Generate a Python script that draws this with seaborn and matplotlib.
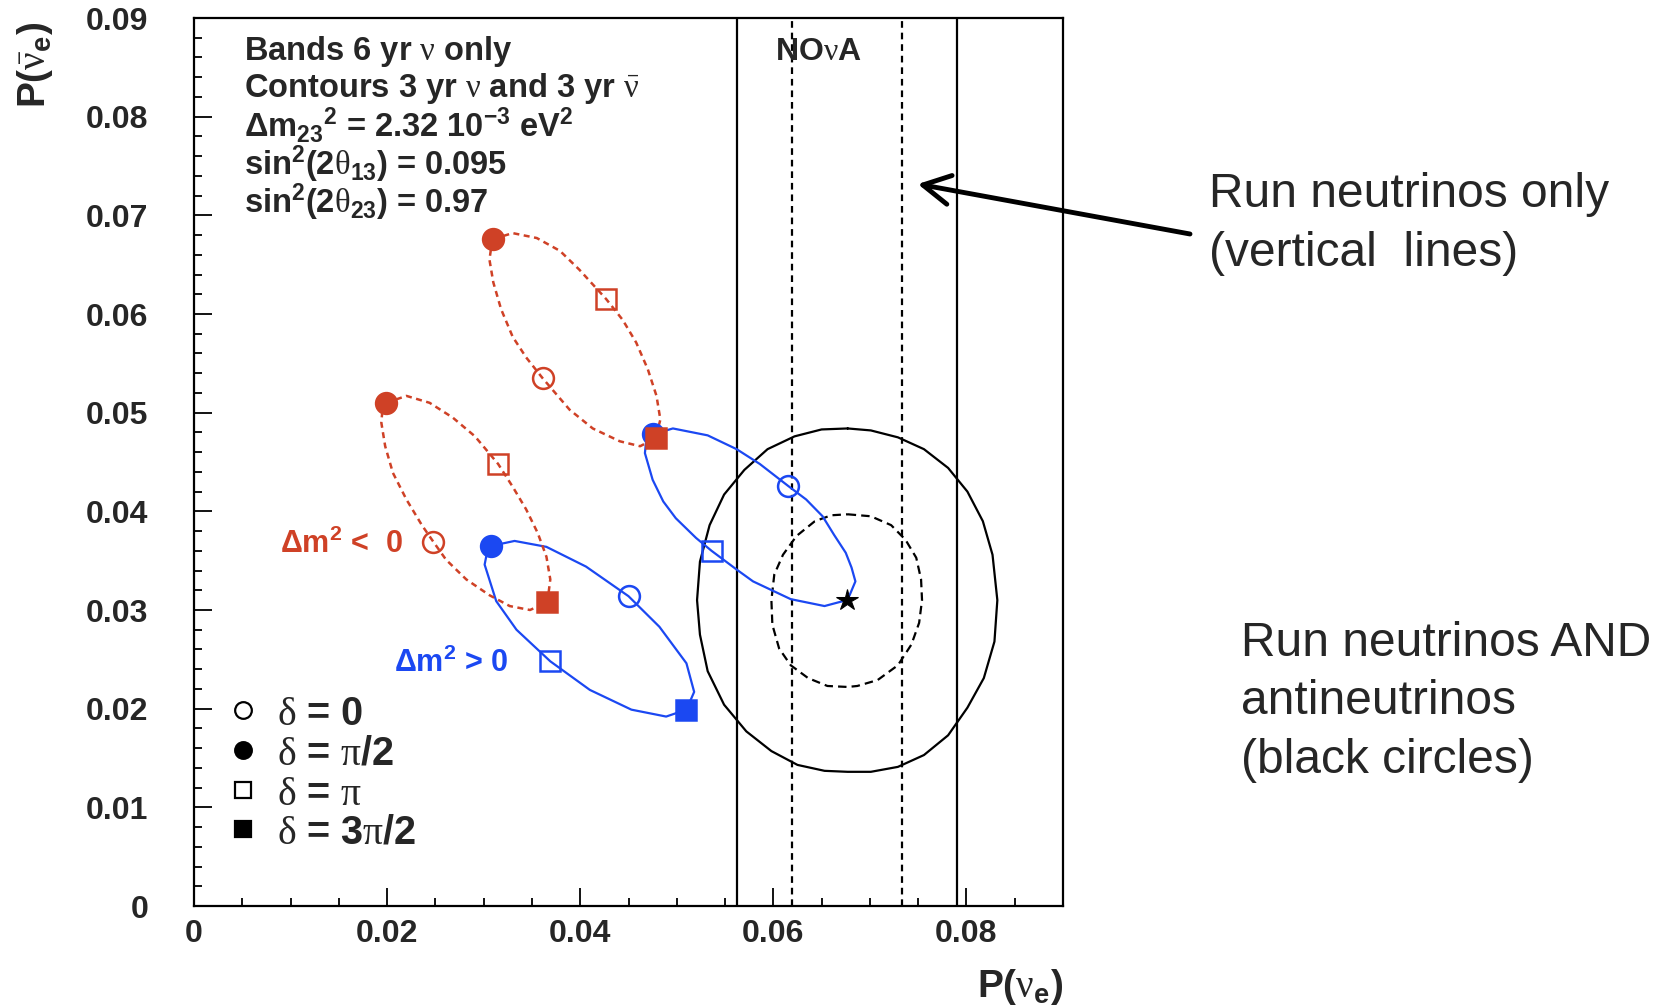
import matplotlib
matplotlib.use("Agg")
import matplotlib.pyplot as plt
from matplotlib.ticker import MultipleLocator
import seaborn as sns

# ---------------- data ----------------
# Delta m^2 < 0 (red, dashed) - upper band
red_upper_x = [0.0310, 0.0330, 0.0355, 0.0379, 0.0399, 0.0427, 0.0444, 0.0458, 0.0470, 0.0479, 0.0483, 0.0478,
               0.0462, 0.0441, 0.0413, 0.0389, 0.0361, 0.0344, 0.0330, 0.0318, 0.0310, 0.0306, 0.0308]
red_upper_y = [0.0676, 0.0682, 0.0677, 0.0664, 0.0645, 0.0615, 0.0594, 0.0571, 0.0544, 0.0517, 0.0493, 0.0474,
               0.0466, 0.0471, 0.0484, 0.0503, 0.0535, 0.0556, 0.0577, 0.0605, 0.0632, 0.0655, 0.0669]
# Delta m^2 < 0 (red, dashed) - lower band
red_lower_x = [0.0199, 0.0220, 0.0244, 0.0268, 0.0291, 0.0315, 0.0330, 0.0344, 0.0356, 0.0365, 0.0369, 0.0366,
               0.0348, 0.0327, 0.0306, 0.0282, 0.0261, 0.0248, 0.0236, 0.0220, 0.0206, 0.0198, 0.0194, 0.0195]
red_lower_y = [0.0510, 0.0517, 0.0510, 0.0495, 0.0476, 0.0448, 0.0425, 0.0402, 0.0378, 0.0354, 0.0331, 0.0308,
               0.0300, 0.0304, 0.0315, 0.0331, 0.0351, 0.0369, 0.0386, 0.0412, 0.0439, 0.0466, 0.0490, 0.0501]
# Delta m^2 > 0 (blue, solid) - upper band
blue_upper_x = [0.0475, 0.0496, 0.0532, 0.0562, 0.0586, 0.0615, 0.0634, 0.0651, 0.0663, 0.0675, 0.0681, 0.0685,
                0.0679, 0.0676, 0.0653, 0.0618, 0.0579, 0.0562, 0.0536, 0.0520, 0.0499, 0.0486, 0.0475, 0.0467, 0.0468]
blue_upper_y = [0.0478, 0.0484, 0.0477, 0.0463, 0.0448, 0.0426, 0.0412, 0.0395, 0.0376, 0.0358, 0.0343, 0.0329,
                0.0315, 0.0310, 0.0304, 0.0311, 0.0329, 0.0341, 0.0360, 0.0373, 0.0393, 0.0410, 0.0432, 0.0459, 0.0469]
# Delta m^2 > 0 (blue, solid) - lower band
blue_lower_x = [0.0308, 0.0332, 0.0365, 0.0406, 0.0450, 0.0482, 0.0510, 0.0518, 0.0510, 0.0489, 0.0453, 0.0410,
                0.0369, 0.0334, 0.0313, 0.0301, 0.0303]
blue_lower_y = [0.0365, 0.0370, 0.0364, 0.0344, 0.0314, 0.0283, 0.0246, 0.0217, 0.0199, 0.0192, 0.0199, 0.0219,
                0.0248, 0.0280, 0.0309, 0.0346, 0.0356]

# delta markers: [delta=0, pi/2, pi, 3pi/2]
red_upper_marks_x = [0.0361, 0.0310, 0.0427, 0.0478]
red_upper_marks_y = [0.0535, 0.0676, 0.0615, 0.0474]
red_lower_marks_x = [0.0248, 0.0199, 0.0315, 0.0366]
red_lower_marks_y = [0.0369, 0.0510, 0.0448, 0.0308]
blue_upper_marks_x = [0.0615, 0.0475, 0.0536]
blue_upper_marks_y = [0.0426, 0.0478, 0.0360]
blue_lower_marks_x = [0.0450, 0.0308, 0.0369, 0.0510]
blue_lower_marks_y = [0.0314, 0.0365, 0.0248, 0.0199]

# true point (star)
star_x = [0.0676]
star_y = [0.0310]

# nu + nubar contours (black)
outer_x = [0.0677, 0.0701, 0.0729, 0.0756, 0.0781, 0.0801, 0.0817, 0.0827, 0.0832, 0.0829, 0.0818, 0.0801,
           0.0781, 0.0756, 0.0729, 0.0701, 0.0677, 0.0653, 0.0625, 0.0598, 0.0572, 0.0549, 0.0532, 0.0524,
           0.0521, 0.0524, 0.0534, 0.0549, 0.0570, 0.0594, 0.0622, 0.0650]
outer_y = [0.0484, 0.0482, 0.0475, 0.0463, 0.0444, 0.0420, 0.0390, 0.0356, 0.0310, 0.0268, 0.0231, 0.0201,
           0.0173, 0.0153, 0.0141, 0.0136, 0.0136, 0.0137, 0.0143, 0.0157, 0.0177, 0.0204, 0.0238, 0.0275,
           0.0310, 0.0349, 0.0386, 0.0417, 0.0442, 0.0463, 0.0476, 0.0483]
inner_x = [0.0677, 0.0701, 0.0722, 0.0737, 0.0748, 0.0753, 0.0754, 0.0751, 0.0743, 0.0729, 0.0708, 0.0687,
           0.0677, 0.0656, 0.0636, 0.0618, 0.0606, 0.0599, 0.0598, 0.0601, 0.0610, 0.0624, 0.0643, 0.0660]
inner_y = [0.0397, 0.0395, 0.0386, 0.0371, 0.0353, 0.0331, 0.0310, 0.0287, 0.0265, 0.0244, 0.0229, 0.0223,
           0.0222, 0.0223, 0.0231, 0.0244, 0.0261, 0.0285, 0.0310, 0.0336, 0.0356, 0.0375, 0.0390, 0.0396]

# nu-only NOvA band limits (vertical lines)
band_solid_x = [0.0562, 0.0790]
band_dashed_x = [0.0619, 0.0733]

x_ticks = [0.0, 0.02, 0.04, 0.06, 0.08]
x_tick_labels = ["0", "0.02", "0.04", "0.06", "0.08"]
y_ticks = [0.0, 0.01, 0.02, 0.03, 0.04, 0.05, 0.06, 0.07, 0.08, 0.09]
y_tick_labels = ["0", "0.01", "0.02", "0.03", "0.04", "0.05", "0.06", "0.07", "0.08", "0.09"]

info_lines = [r"Bands 6 yr $\mathrm{\nu}$ only",
              r"Contours 3 yr $\mathrm{\nu}$ and 3 yr $\mathrm{\bar{\nu}}$",
              r"Δm$_{23}$$^{2}$ = 2.32 10$^{-3}$ eV$^{2}$",
              r"sin$^{2}$(2$\mathrm{\theta}_{13}$) = 0.095",
              r"sin$^{2}$(2$\mathrm{\theta}_{23}$) = 0.97"]
legend_labels = [r"$\mathrm{\delta}$ = 0", r"$\mathrm{\delta}$ = $\mathrm{\pi}$/2",
                 r"$\mathrm{\delta}$ = $\mathrm{\pi}$", r"$\mathrm{\delta}$ = 3$\mathrm{\pi}$/2"]

# ---------------- style ----------------
sns.set_style("white")
plt.rcParams['font.family'] = ['Liberation Sans', 'DejaVu Sans']
plt.rcParams['mathtext.fontset'] = 'custom'
plt.rcParams['mathtext.rm'] = 'Liberation Serif:weight=normal'
plt.rcParams['mathtext.it'] = 'Liberation Serif:italic:weight=normal'
plt.rcParams['mathtext.bf'] = 'Liberation Sans:bold'
plt.rcParams['mathtext.sf'] = 'Liberation Sans'
plt.rcParams['mathtext.default'] = 'bf'

RED = '#cf4126'
BLUE = '#1b48f2'

fig = plt.figure(figsize=(16.63, 10.07), dpi=100)
ax = fig.add_axes([194 / 1663, 1 - 906 / 1007, 869 / 1663, 888 / 1007])


def closed_curve(xs, ys, color, ls, lw):
    sns.lineplot(x=list(xs) + [xs[0]], y=list(ys) + [ys[0]], sort=False, estimator=None,
                 color=color, linestyle=ls, lw=lw, ax=ax)


# NOvA nu-only band
for xv in band_solid_x:
    ax.axvline(xv, color='black', lw=1.6)
for xv in band_dashed_x:
    ax.axvline(xv, color='black', lw=1.6, linestyle=(0, (3.0, 2.2)))

# contours
closed_curve(outer_x, outer_y, 'black', '-', 1.6)
closed_curve(inner_x, inner_y, 'black', (0, (3.8, 2.3)), 1.6)

# bands
closed_curve(blue_upper_x, blue_upper_y, BLUE, '-', 1.6)
closed_curve(blue_lower_x, blue_lower_y, BLUE, '-', 1.6)
closed_curve(red_upper_x, red_upper_y, RED, (0, (2.4, 1.8)), 1.8)
closed_curve(red_lower_x, red_lower_y, RED, (0, (2.4, 1.8)), 1.8)

marker_styles = [('o', False), ('o', True), ('s', False), ('s', True)]


def draw_marks(mx, my, color):
    for (m, filled), xv, yv in zip(marker_styles, mx, my):
        sns.lineplot(x=[xv], y=[yv], estimator=None, sort=False, linestyle='none', marker=m,
                     ms=15, mew=1.8,
                     mfc=color if filled else 'none', mec=color, color=color, ax=ax)


draw_marks(blue_upper_marks_x, blue_upper_marks_y, BLUE)
draw_marks(blue_lower_marks_x, blue_lower_marks_y, BLUE)
draw_marks(red_upper_marks_x, red_upper_marks_y, RED)
draw_marks(red_lower_marks_x, red_lower_marks_y, RED)

sns.lineplot(x=star_x, y=star_y, estimator=None, linestyle='none', marker='*', ms=16,
             mfc='black', mec='black', color='black', ax=ax)

# axes
ax.set_xlim(0, 0.09)
ax.set_ylim(0, 0.09)
ax.set_xticks(x_ticks)
ax.set_xticklabels(x_tick_labels, fontsize=23, fontweight='bold')
ax.set_yticks(y_ticks)
ax.set_yticklabels(y_tick_labels, fontsize=23, fontweight='bold')
ax.xaxis.set_minor_locator(MultipleLocator(0.005))
ax.yaxis.set_minor_locator(MultipleLocator(0.002))
ax.tick_params(which='both', direction='in', bottom=True, left=True, top=False, right=False,
               width=1.3, color='black')
ax.tick_params(which='major', length=13)
ax.tick_params(which='minor', length=6)
ax.tick_params(axis='x', which='major', pad=9)
ax.tick_params(axis='y', which='major', pad=33)
for s in ax.spines.values():
    s.set_linewidth(1.6)
    s.set_color('black')
ax.set_xlabel("")
ax.set_ylabel("")

ax.text(1.0, -0.1025, r"P($\mathrm{\nu}_{e}$)", transform=ax.transAxes, ha='right', va='baseline',
        fontsize=28, fontweight='bold')
ax.text(-0.1715, 0.9955, r"P($\mathrm{\bar{\nu}}_{e}$)", transform=ax.transAxes, ha='right', va='baseline',
        rotation=90, rotation_mode='anchor', fontsize=28, fontweight='bold')

# info text
for s, fy in zip(info_lines, [0.953, 0.911, 0.866, 0.823, 0.780]):
    ax.text(0.0575, fy, s, transform=ax.transAxes, fontsize=23.5, fontweight='bold', va='baseline')

ax.text(0.6686, 0.9527, r"NO$\mathrm{\nu}$A", transform=ax.transAxes, fontsize=23, fontweight='bold',
        va='baseline')

ax.text(0.02162, 0.0358, r"Δm$^{2}$ <  0", color=RED, fontsize=22, fontweight='bold', ha='right',
        va='baseline')
ax.text(0.03262, 0.02376, r"Δm$^{2}$ > 0", color=BLUE, fontsize=22, fontweight='bold', ha='right',
        va='baseline')

# legend for delta markers
for (m, filled), lab, fy in zip(marker_styles, legend_labels, [0.2207, 0.1757, 0.1306, 0.0867]):
    ax.plot([0.0564], [fy], transform=ax.transAxes, marker=m, linestyle='none',
            ms=12 if m == 'o' else 11, mew=1.6, mfc='black' if filled else 'none', mec='black')
    ax.text(0.0955, fy - 0.0165, lab, transform=ax.transAxes, fontsize=28.5, fontweight='bold', va='baseline')

# annotations outside the frame
fig.text(1209 / 1663, 1 - 224 / 1007, "Run neutrinos only\n(vertical  lines)", fontsize=34.5,
         va='center', ha='left', linespacing=1.38)
fig.text(1241 / 1663, 1 - 702 / 1007, "Run neutrinos AND\nantineutrinos\n(black circles)", fontsize=34.5,
         va='center', ha='left', linespacing=1.38)
ax.annotate("", xy=(0.07496, 0.07317), xycoords='data', xytext=(1190 / 1663, 1 - 234 / 1007),
            textcoords='figure fraction', annotation_clip=False,
            arrowprops=dict(arrowstyle='->,head_length=1.3,head_width=0.7', mutation_scale=15,
                            lw=3.5, color='black', shrinkA=0, shrinkB=0))

fig.savefig("out.png", dpi=100)
